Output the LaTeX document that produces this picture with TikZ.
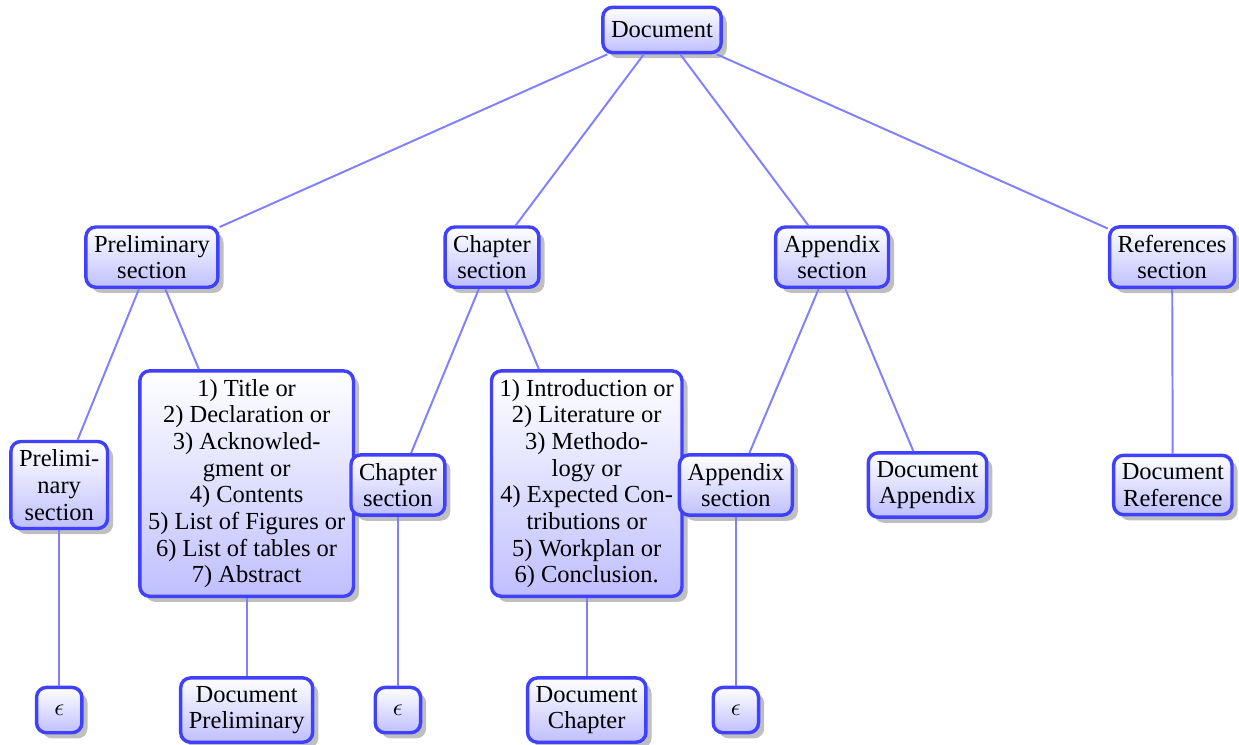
\documentclass[tikz,border=0pt]{standalone}
\usepackage{fontspec}
\setmainfont{Liberation Serif}
\usepackage{tikz}
\usetikzlibrary{shadows}

\begin{document}
\begin{tikzpicture}[
  box/.style={draw=blue!75, line width=1.4pt, rounded corners, top color=white, bottom color=blue!25,
    drop shadow, align=center, minimum size=18.5pt, font=\fontsize{10}{10.9}\selectfont},
  link/.style={blue!50, thick}]
\useasboundingbox (0,0) rectangle (17.78,-10.69);

% root and first level
\node[box] (doc) at (9.50,-0.43) {Document};
\node[box] (pre) at (2.18,-3.69) {Preliminary\\section};
\node[box] (cha) at (7.06,-3.69) {Chapter\\section};
\node[box] (app) at (11.94,-3.69) {Appendix\\section};
\node[box] (ref) at (16.82,-3.69) {References\\section};

% second level
\node[box] (pre2) at (0.85,-6.96) {Prelimi-\\nary\\section};
\node[box] (prelist) at (3.54,-6.94) {1) Title or\\2) Declaration or\\3) Acknowled-\\gment or\\4) Contents\\5) List of Figures or\\6) List of tables or\\7) Abstract};
\node[box] (cha2) at (5.71,-6.96) {Chapter\\section};
\node[box] (chalist) at (8.42,-6.94) {1) Introduction or\\2) Literature or\\3) Methodo-\\logy or\\4) Expected Con-\\tributions or\\5) Workplan or\\6) Conclusion.};
\node[box] (app2) at (10.56,-6.96) {Appendix\\section};
\node[box] (docapp) at (13.31,-6.96) {Document\\Appendix};
\node[box] (docref) at (16.83,-6.96) {Document\\Reference};

% third level
\node[box] (eps1) at (0.85,-10.19) {$\epsilon$};
\node[box] (docpre) at (3.54,-10.19) {Document\\Preliminary};
\node[box] (eps2) at (5.71,-10.19) {$\epsilon$};
\node[box] (doccha) at (8.42,-10.19) {Document\\Chapter};
\node[box] (eps3) at (10.56,-10.19) {$\epsilon$};

% edges
\draw[link] (doc) -- (pre);
\draw[link] (doc) -- (cha);
\draw[link] (doc) -- (app);
\draw[link] (doc) -- (ref);
\draw[link] (pre) -- (pre2);
\draw[link] (pre) -- (prelist);
\draw[link] (cha) -- (cha2);
\draw[link] (cha) -- (chalist);
\draw[link] (app) -- (app2);
\draw[link] (app) -- (docapp);
\draw[link] (ref) -- (docref);
\draw[link] (pre2) -- (eps1);
\draw[link] (prelist) -- (docpre);
\draw[link] (cha2) -- (eps2);
\draw[link] (chalist) -- (doccha);
\draw[link] (app2) -- (eps3);
\end{tikzpicture}
\end{document}
